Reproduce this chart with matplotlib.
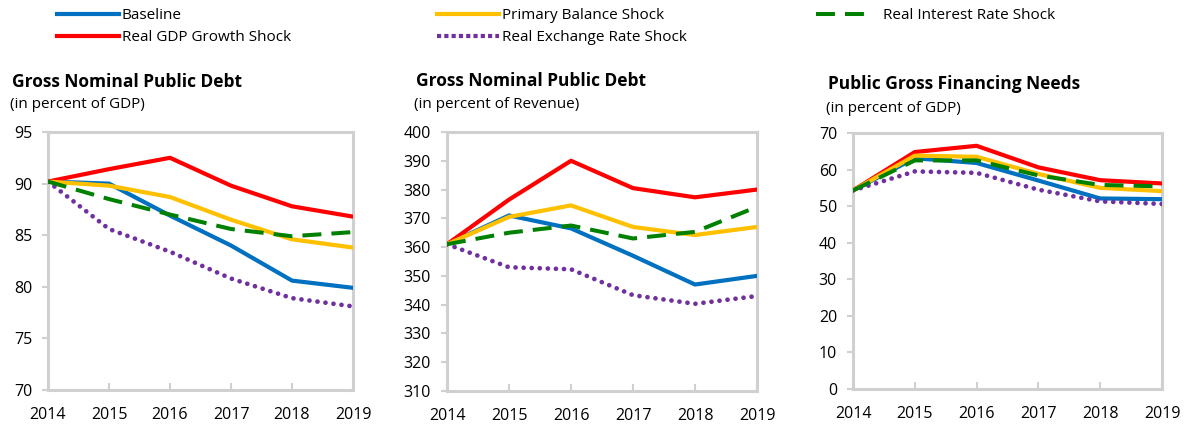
import matplotlib.pyplot as plt
from matplotlib.lines import Line2D

years = [2014, 2015, 2016, 2017, 2018, 2019]

series_names = [
    "Baseline",
    "Real GDP Growth Shock",
    "Primary Balance Shock",
    "Real Exchange Rate Shock",
    "Real Interest Rate Shock",
]

# debt, percent of GDP
debt_gdp_baseline = [90.2, 90.0, 86.9, 84.0, 80.6, 79.9]
debt_gdp_growth = [90.2, 91.4, 92.5, 89.8, 87.8, 86.8]
debt_gdp_primary = [90.2, 89.8, 88.7, 86.5, 84.6, 83.8]
debt_gdp_fx = [90.2, 85.6, 83.4, 80.8, 78.9, 78.1]
debt_gdp_rate = [90.2, 88.5, 87.0, 85.6, 84.9, 85.3]

# debt, percent of revenue
debt_rev_baseline = [361, 371, 366.5, 357, 347, 350]
debt_rev_growth = [361, 376.5, 390, 380.5, 377.3, 380]
debt_rev_primary = [361, 370.5, 374.5, 367, 364.2, 367]
debt_rev_fx = [361, 353, 352.3, 343.3, 340.3, 343]
debt_rev_rate = [361, 365, 367.5, 363, 365.3, 374]

# gross financing needs, percent of GDP
gfn_baseline = [54.3, 63.1, 61.8, 57.0, 52.1, 51.9]
gfn_growth = [54.3, 64.8, 66.5, 60.6, 57.1, 56.2]
gfn_primary = [54.3, 63.8, 63.5, 58.8, 55.0, 54.1]
gfn_fx = [54.3, 59.5, 59.1, 54.5, 51.3, 50.6]
gfn_rate = [54.3, 62.5, 62.5, 58.4, 55.8, 55.4]

STYLES = {
    "Baseline": dict(color="#0070C0", linestyle="-", linewidth=3),
    "Real GDP Growth Shock": dict(color="#FF0000", linestyle="-", linewidth=3),
    "Primary Balance Shock": dict(color="#FFC000", linestyle="-", linewidth=3),
    "Real Exchange Rate Shock": dict(color="#7030A0", linestyle=(0, (0.01, 1.7)), linewidth=3.4,
                                     dash_capstyle="round"),
    "Real Interest Rate Shock": dict(color="#008000", linestyle=(0, (4.7, 2.5)), linewidth=2.9),
}
# legend swatch for the dotted series is drawn as small squares
LEGEND_STYLES = dict(STYLES)
LEGEND_STYLES["Real Exchange Rate Shock"] = dict(color="#7030A0", linestyle=(0, (1, 0.75)),
                                                 linewidth=3, dash_capstyle="butt")
ZORDER = {
    "Baseline": 3,
    "Real GDP Growth Shock": 3,
    "Primary Balance Shock": 3,
    "Real Exchange Rate Shock": 4,
    "Real Interest Rate Shock": 5,
}

plt.rcParams["font.family"] = ["Open Sans", "DejaVu Sans"]

panels = [
    dict(rect=[48 / 1185, 1 - 390 / 426, 305 / 1185, 258 / 426],
         data=[debt_gdp_baseline, debt_gdp_growth, debt_gdp_primary, debt_gdp_fx, debt_gdp_rate],
         ylim=(70, 95), yticks=[70, 75, 80, 85, 90, 95],
         title="Gross Nominal Public Debt", sub="(in percent of GDP)", tx=12, ty=82, sy=104),
    dict(rect=[447 / 1185, 1 - 391 / 426, 310 / 1185, 259 / 426],
         data=[debt_rev_baseline, debt_rev_growth, debt_rev_primary, debt_rev_fx, debt_rev_rate],
         ylim=(310, 400), yticks=list(range(310, 401, 10)),
         title="Gross Nominal Public Debt", sub="(in percent of Revenue)", tx=416, ty=81, sy=105),
    dict(rect=[853 / 1185, 1 - 389 / 426, 309 / 1185, 256 / 426],
         data=[gfn_baseline, gfn_growth, gfn_primary, gfn_fx, gfn_rate],
         ylim=(0, 70), yticks=list(range(0, 71, 10)),
         title="Public Gross Financing Needs", sub="(in percent of GDP)", tx=828, ty=84, sy=109),
]

fig = plt.figure(figsize=(11.85, 4.26), dpi=100)

for p in panels:
    ax = fig.add_axes(p["rect"])
    for name, vals in zip(series_names, p["data"]):
        ax.plot(years, vals, zorder=ZORDER[name], **STYLES[name])
    ax.set_xlim(2014, 2019)
    ax.set_ylim(*p["ylim"])
    ax.set_yticks(p["yticks"])
    ax.set_xticks(years)
    for s in ax.spines.values():
        s.set_color("#D0D0D0")
        s.set_linewidth(2.2)
    ax.tick_params(axis="x", direction="in", length=5, width=1.5, color="#D0D0D0",
                   labelsize=11.5, pad=12.5)
    ax.tick_params(axis="y", direction="out", length=4, width=1.5, color="#D0D0D0",
                   labelsize=11.5, pad=7.5)
    fig.text(p["tx"] / 1185, 1 - p["ty"] / 426, p["title"], fontsize=12.5,
             fontweight="bold", va="center", ha="left")
    fig.text(p["tx"] / 1185 - 2 / 1185, 1 - p["sy"] / 426, p["sub"], fontsize=11,
             va="center", ha="left")

# three legend columns, placed separately to match the reference spacing
legend_cols = [
    (["Baseline", "Real GDP Growth Shock"], 57, 4.05, 0.2),
    (["Primary Balance Shock", "Real Exchange Rate Shock"], 437, 4.05, 0.2),
    (["Real Interest Rate Shock"], 816, 3.35, 1.05),
]
for names, x_px, hlen, hpad in legend_cols:
    handles = [Line2D([], [], **LEGEND_STYLES[n]) for n in names]
    fig.legend(handles, names, loc="upper left", bbox_to_anchor=(x_px / 1185, 1 - 8 / 426),
               frameon=False, fontsize=11, handlelength=hlen, handletextpad=hpad,
               labelspacing=0.45, borderpad=0, borderaxespad=0)

fig.savefig("out.png", dpi=100)
